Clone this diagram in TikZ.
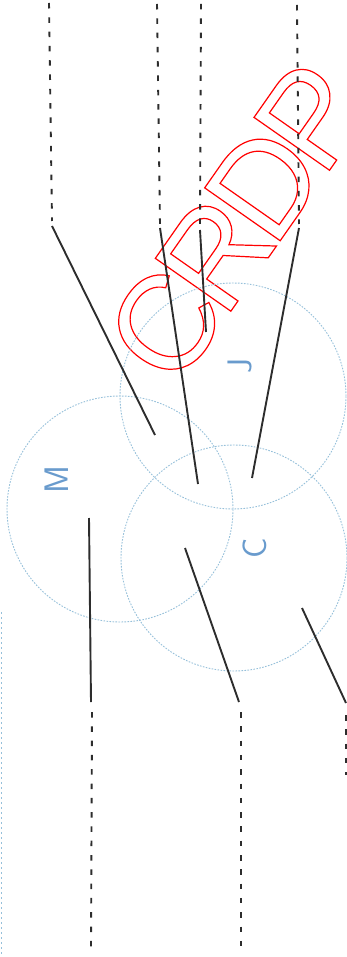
\documentclass[tikz,border=0pt]{standalone}
\usepackage{fontspec}
\newfontfamily\stampfont[LetterSpace=-8]{Liberation Sans}
\usetikzlibrary{positioning}

\definecolor{ringblue}{RGB}{150,192,218}
\definecolor{tagblue}{RGB}{105,155,205}
\definecolor{inkgray}{RGB}{45,45,45}

\begin{document}
\begin{tikzpicture}[
    x=1pt, y=-1pt,
    ring/.style={
        circle,
        draw=ringblue,
        dash pattern=on 1.6pt off 1.4pt,
        line width=0.9pt,
        minimum size=226pt,
        inner sep=0pt
    },
    tag/.style={
        rotate=90,
        text=tagblue,
        inner sep=0pt,
        font=\fontsize{34}{34}\sffamily
    },
    guide/.style={
        draw=inkgray,
        line width=1.9pt,
        dash pattern=on 5.5pt off 8.8pt
    },
    leader/.style={
        draw=inkgray,
        line width=1.9pt
    },
    stamp/.style={
        rotate=55,
        text=red,
        inner sep=0pt,
        font=\fontsize{134}{134}\stampfont
    }
]
\useasboundingbox (0,0) rectangle (347,957);
\clip (0,0) rectangle (347,957);

% Watermark (outlined letters)
\node[stamp] (crdp) at (237,222) {\special{pdf:literal direct 1 Tr 1.2 w}CRDP\special{pdf:literal direct 0 Tr}};

% Circles
\node[ring] (M) at (120,509) {};
\node[ring] (J) at (233,396) {};
\node[ring] (C) at (234,558) {};

% Circle labels
\node[tag] (Mtag) at (57,480) {M};
\node[tag] (Jtag) at (240,366) {J};
\node[tag] (Ctag) at (255,548) {C};

% Top guides
\coordinate (t1a) at (49,3);   \coordinate (t1b) at (52,221);
\coordinate (t1c) at (52,226); \coordinate (t1d) at (155,435);
\coordinate (t2a) at (157,4);  \coordinate (t2b) at (160,224);
\coordinate (t2c) at (160,228);\coordinate (t2d) at (198,484);
\coordinate (t3a) at (201,4);  \coordinate (t3b) at (200,226);
\coordinate (t3c) at (200,230);\coordinate (t3d) at (206,332);
\coordinate (t4a) at (297,5);  \coordinate (t4b) at (299,224);
\coordinate (t4c) at (299,228);\coordinate (t4d) at (252,478);

\draw[guide] (t1a) -- (t1b);
\draw[leader] (t1c) -- (t1d);
\draw[guide] (t2a) -- (t2b);
\draw[leader] (t2c) -- (t2d);
\draw[guide] (t3a) -- (t3b);
\draw[leader] (t3c) -- (t3d);
\draw[guide] (t4a) -- (t4b);
\draw[leader] (t4c) -- (t4d);

% Bottom guides
\coordinate (b1a) at (89,518);  \coordinate (b1b) at (91,702);
\coordinate (b1c) at (92,712);  \coordinate (b1d) at (91,950);
\coordinate (b2a) at (185,548); \coordinate (b2b) at (239,702);
\coordinate (b2c) at (241,712); \coordinate (b2d) at (241,950);
\coordinate (b3a) at (302,608); \coordinate (b3b) at (346,703);
\coordinate (b3c) at (346,715); \coordinate (b3d) at (346,775);

\draw[leader] (b1a) -- (b1b);
\draw[guide] (b1c) -- (b1d);
\draw[leader] (b2a) -- (b2b);
\draw[guide] (b2c) -- (b2d);
\draw[leader] (b3a) -- (b3b);
\draw[guide] (b3c) -- (b3d);

% Faint mark on the left edge
\coordinate (edgea) at (1,612); \coordinate (edgeb) at (1,957);
\draw[ringblue, line width=1pt, dash pattern=on 2pt off 3pt] (edgea) -- (edgeb);

\end{tikzpicture}
\end{document}
